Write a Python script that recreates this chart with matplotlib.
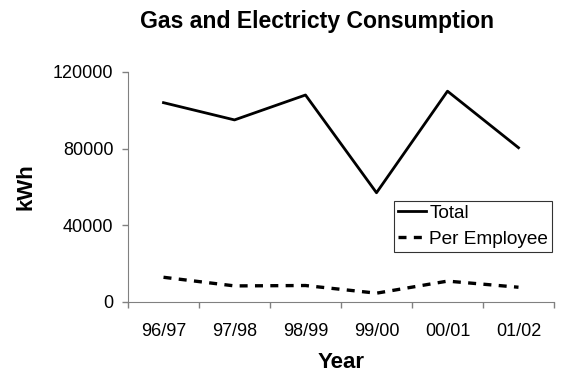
import matplotlib
matplotlib.use('Agg')
from matplotlib import pyplot as plt
import numpy as np

plt.rcParams['font.family'] = ['Liberation Sans', 'DejaVu Sans']

# consumption by financial year
years = ['96/97', '97/98', '98/99', '99/00', '00/01', '01/02']
total = [104000, 95000, 108000, 57000, 110000, 80500]
per_employee = [12900, 8400, 8600, 4600, 10900, 7700]

W, H = 561, 374
fig = plt.figure(figsize=(W / 100, H / 100), dpi=100)
ax = fig.add_axes([128 / W, 1 - 302 / H, (554 - 128) / W, (302 - 72) / H])

x = np.arange(len(years))
ax.plot(x, total, c='black', lw=2, label='Total')
ax.plot(x, per_employee, c='black', lw=2.4, ls=(0, (2.4, 2.2)), label='Per Employee')

ax.set_xlim(-0.5, len(years) - 0.5)
ax.set_ylim(0, 120000)
ax.set_yticks([0, 40000, 80000, 120000])
# ticks sit between the categories, labels under the centres
ax.set_xticks(np.arange(-0.5, len(years)))
ax.set_xticklabels([])
ax.set_xticks(x, minor=True)
ax.set_xticklabels(years, minor=True)
ax.tick_params(axis='x', which='major', length=4.5, color='#808080', width=1)
ax.tick_params(axis='x', which='minor', length=0, pad=15, labelsize=13)
ax.tick_params(axis='y', length=4.5, color='#808080', width=1, pad=6, labelsize=13)

for side in ['top', 'right']:
    ax.spines[side].set_visible(False)
for side in ['left', 'bottom']:
    ax.spines[side].set_color('#808080')

fig.text(317 / W, 1 - 28 / H, 'Gas and Electricty Consumption', fontsize=16.6,
         fontweight='bold', ha='center', va='baseline')
fig.text(341 / W, 1 - 368 / H, 'Year', fontsize=16, fontweight='bold',
         ha='center', va='baseline')
fig.text(26 / W, 1 - 187 / H, 'kWh', fontsize=16, fontweight='bold',
         ha='center', va='center', rotation=90)

leg = ax.legend(loc='upper left', bbox_to_anchor=(394 / W, 1 - 201 / H),
                bbox_transform=fig.transFigure, fontsize=13.7,
                frameon=True, fancybox=False, edgecolor='black', handlelength=1.5,
                handletextpad=0.15, borderpad=0.2, labelspacing=0.45, borderaxespad=0)
leg.get_frame().set_linewidth(0.8)

plt.savefig('out.png', dpi=100)
